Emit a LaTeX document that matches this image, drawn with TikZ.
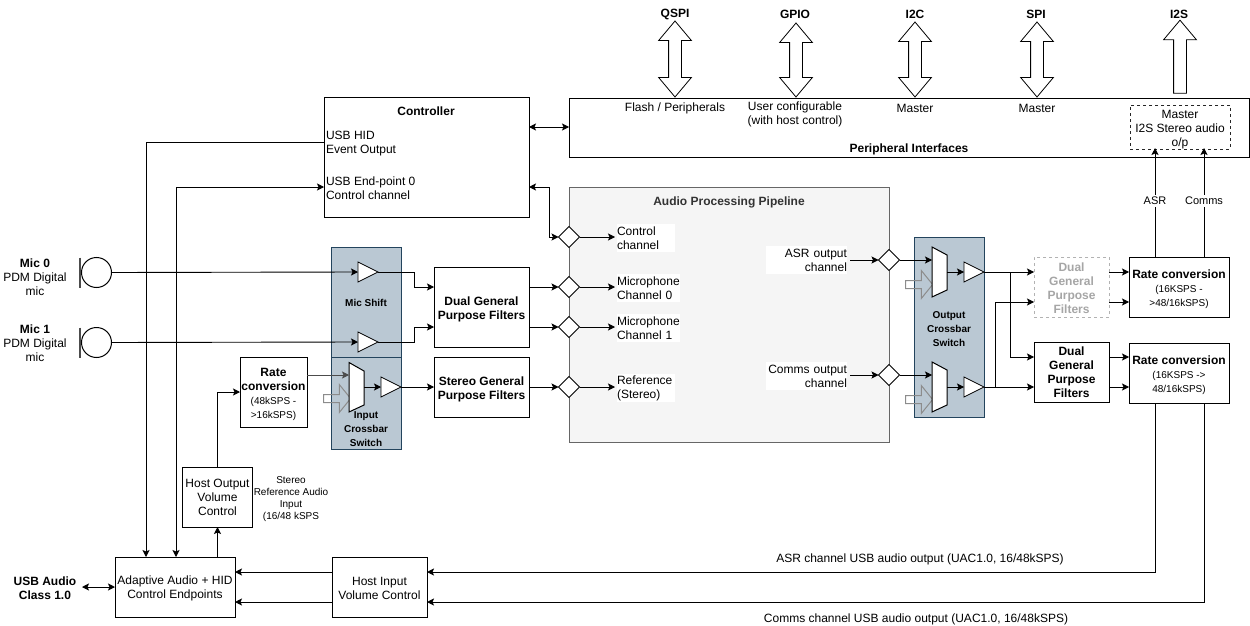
\documentclass[tikz,border=0pt]{standalone}
\usepackage{fontspec}
\setmainfont{Liberation Sans}
\usetikzlibrary{arrows.meta,shapes.geometric,shapes.arrows}

\definecolor{panelfill}{HTML}{BAC8D3}
\definecolor{paneldraw}{HTML}{23445D}
\definecolor{pipefill}{HTML}{F5F5F5}
\definecolor{pipedraw}{HTML}{666666}

\newcommand{\smalltext}{\fontsize{10}{14}\selectfont}
\newcommand{\paneltext}{\fontsize{10}{12}\selectfont\bfseries}
\newcommand{\lowered}[1]{\rule{0pt}{#1}}

\tikzset{
    every node/.style={inner sep=0pt, outer sep=0pt, font=\fontsize{12}{14}\selectfont},
    box/.style={draw, fill=white, line width=1pt, align=center},
    panel/.style={draw=paneldraw, fill=panelfill, line width=1pt},
    buffer/.style={draw, fill=white, line width=0.8pt, isosceles triangle, isosceles triangle apex angle=53,
        isosceles triangle stretches, minimum width=20pt, minimum height=20pt, anchor=apex},
    junction/.style={draw, fill=white, line width=0.8pt, diamond, minimum width=21pt, minimum height=21pt},
    bus/.style={draw, fill=white, line width=0.8pt, rotate=90, inner ysep=6pt, minimum width=32pt,
        double arrow, double arrow head extend=10pt, double arrow tip angle=80, double arrow head indent=0pt},
    busout/.style={draw, fill=white, line width=0.8pt, rotate=90, inner ysep=6pt, minimum width=32pt,
        single arrow, single arrow head extend=10pt, single arrow tip angle=80, single arrow head indent=0pt},
    muxin/.style={draw=black!45, line width=1pt, inner ysep=3.5pt, minimum width=27pt, minimum height=27pt,
        single arrow, single arrow head extend=10pt, single arrow tip angle=102, single arrow head indent=0pt},
    micbar/.style={line width=1.6pt, black!70},
    whitelabel/.style={fill=white, align=left, anchor=west},
    link/.style={line width=0.9pt},
}

\begin{document}
\begin{tikzpicture}[x=1pt, y=-1pt, >={Stealth[length=7pt, width=7pt, inset=1.5pt]}]
    \useasboundingbox (0, 0) rectangle (1250, 626);

    % Backgrounds
    \node at (729, 314.5) (pipeline) [draw=pipedraw, fill=pipefill, line width=1pt, minimum width=320pt, minimum height=255pt] {};
    \node at (729, 202) (pipeline_title) {\color{black!80}\bfseries Audio Processing Pipeline};
    \node at (366, 302) (mic_shift) [panel, minimum width=70pt, minimum height=110pt] {};
    \node at (366, 403) (input_xbar) [panel, minimum width=70pt, minimum height=92pt] {};
    \node at (949, 327) (output_xbar) [panel, minimum width=70pt, minimum height=180pt] {};
    \node at (366, 303) (mic_shift_label) {\paneltext Mic Shift};
    \node at (366, 429) (input_xbar_label) [align=center] {\paneltext Input\\\paneltext Crossbar\\\paneltext Switch};
    \node at (949, 329) (output_xbar_label) [align=center] {\paneltext Output\\\paneltext Crossbar\\\paneltext Switch};

    % Boxes
    \node at (426.5, 157) (controller) [box, minimum width=205pt, minimum height=120pt] {};
    \node at (426, 111) (controller_title) {\bfseries Controller};
    \node at (326, 143.5) (hid_label) [anchor=west, align=left] {USB HID\\Event Output};
    \node at (326, 188) (ep0_label) [anchor=west, align=left] {USB End-point 0\\Control channel};
    \node at (909, 127.5) (peripheral) [box, minimum width=680pt, minimum height=59pt] {};
    \node at (909, 149) (peripheral_title) {\bfseries Peripheral Interfaces};
    \node at (1180, 127) (i2s_master) [draw=black!85, dashed, fill=white, line width=0.7pt, minimum width=100pt, minimum height=41pt, align=center] {\lowered{13.5pt}Master\\I2S Stereo audio\\o/p};
    \node at (481.5, 307) (dual_gpf) [box, minimum width=95pt, minimum height=80pt] {\lowered{13pt}\bfseries Dual General\\\bfseries Purpose Filters};
    \node at (481.5, 387) (stereo_gpf) [box, minimum width=95pt, minimum height=60pt] {\lowered{13pt}\bfseries Stereo General\\\bfseries Purpose Filters};
    \node at (273.5, 392) (rate_in) [box, minimum width=67pt, minimum height=70pt] {\lowered{13pt}\bfseries Rate\\\bfseries conversion\\\smalltext (48kSPS -\\\smalltext >16kSPS)};
    \node at (217.5, 497) (host_out) [box, minimum width=70pt, minimum height=60pt] {Host Output\\Volume\\Control};
    \node at (175, 587) (adaptive) [box, minimum width=120pt, minimum height=60pt] {\lowered{12pt}Adaptive Audio + HID\\Control Endpoints};
    \node at (379.5, 587) (host_in) [box, minimum width=95pt, minimum height=60pt] {\lowered{11pt}Host Input\\Volume Control};
    \node at (1071.5, 287) (dual_gray) [draw=gray!60, dashed, fill=white, line width=0.8pt, minimum width=75pt, minimum height=60pt, align=center, text=gray!70] {\lowered{11pt}\bfseries Dual\\\bfseries General\\\bfseries Purpose\\\bfseries Filters};
    \node at (1071.5, 372) (dual_out) [box, minimum width=75pt, minimum height=60pt] {\lowered{10pt}\bfseries Dual\\\bfseries General\\\bfseries Purpose\\\bfseries Filters};
    \node at (1179, 287) (rate_asr) [box, minimum width=100pt, minimum height=60pt] {\lowered{13pt}\bfseries Rate conversion\\\smalltext (16KSPS -\\\smalltext >48/16kSPS)};
    \node at (1179, 373) (rate_comms) [box, minimum width=100pt, minimum height=60pt] {\lowered{13pt}\bfseries Rate conversion\\\smalltext (16KSPS ->\\\smalltext 48/16kSPS)};

    % Microphones
    \node at (96.5, 272.5) (mic_0) [draw, circle, line width=1pt, minimum size=30pt] {};
    \node at (96.5, 342.5) (mic_1) [draw, circle, line width=1pt, minimum size=30pt] {};
    \draw[micbar] ([xshift=-1.5pt]mic_0.west |- mic_0.north) -- ([xshift=-1.5pt]mic_0.west |- mic_0.south);
    \draw[micbar] ([xshift=-1.5pt]mic_1.west |- mic_1.north) -- ([xshift=-1.5pt]mic_1.west |- mic_1.south);
    \node at (35, 263) (mic_0_name) {\bfseries Mic 0};
    \node at (35, 284) (mic_0_text) [align=center] {PDM Digital\\mic};
    \node at (35, 329) (mic_1_name) {\bfseries Mic 1};
    \node at (35, 350) (mic_1_text) [align=center] {PDM Digital\\mic};

    % Buffers and muxes
    \node at (378, 272) (shift_0) [buffer] {};
    \node at (378, 342) (shift_1) [buffer] {};
    \node at (401, 387) (input_buf) [buffer] {};
    \node at (984, 272) (asr_buf) [buffer] {};
    \node at (984, 387) (comms_buf) [buffer] {};
    \node at (335.5, 398.5) (input_side) [muxin] {};
    \node at (917.5, 284.5) (asr_side) [muxin] {};
    \node at (917.5, 399.5) (comms_side) [muxin] {};
    \draw[fill=white, line width=1pt] (349, 362.5) -- (364, 371) -- (364, 405) -- (349, 412) -- cycle;
    \draw[fill=white, line width=1pt] (932, 247) -- (947, 255) -- (947, 290) -- (932, 297) -- cycle;
    \draw[fill=white, line width=1pt] (932, 362) -- (947, 370) -- (947, 405) -- (932, 412) -- cycle;

    % Junctions
    \node at (569, 237) (j_control) [junction] {};
    \node at (569, 287) (j_mic_0) [junction] {};
    \node at (569, 327) (j_mic_1) [junction] {};
    \node at (569, 387) (j_ref) [junction] {};
    \node at (889, 260) (j_asr) [junction] {};
    \node at (889, 375) (j_comms) [junction] {};

    % Pipeline labels
    \node at (617, 238) (l_control) [whitelabel, minimum width=58pt, minimum height=28pt, text width=58pt] {Control\\channel};
    \node at (617, 288) (l_mic_0) [whitelabel, minimum width=63pt, minimum height=28pt, text width=63pt] {Microphone\\Channel 0};
    \node at (617, 328) (l_mic_1) [whitelabel, minimum width=63pt, minimum height=28pt, text width=63pt] {Microphone\\Channel 1};
    \node at (617, 388) (l_ref) [whitelabel, minimum width=58pt, minimum height=28pt, text width=58pt] {Reference\\(Stereo)};
    \node at (847, 260) (l_asr) [fill=white, anchor=east, align=right, minimum width=81pt, minimum height=28pt, text width=81pt] {ASR output\\channel};
    \node at (847, 376) (l_comms) [fill=white, anchor=east, align=right, minimum width=81pt, minimum height=28pt, text width=81pt] {Comms output\\channel};

    % Top buses
    \node at (675, 59) (qspi) [bus, minimum height=76pt] {};
    \node at (796, 60) (gpio) [bus, minimum height=74pt] {};
    \node at (915, 59.5) (i2c) [bus, minimum height=75pt] {};
    \node at (1037, 59.5) (spi) [bus, minimum height=75pt] {};
    \node at (1180, 60.5) (i2s) [busout, minimum height=73pt] {};
    \node at (675, 14) (qspi_label) {\bfseries QSPI};
    \node at (795, 14) (gpio_label) {\bfseries GPIO};
    \node at (915, 14) (i2c_label) {\bfseries I2C};
    \node at (1036, 14) (spi_label) {\bfseries SPI};
    \node at (1179, 14) (i2s_label) {\bfseries I2S};
    \node at (675, 108) (qspi_text) {Flash / Peripherals};
    \node at (795, 114) (gpio_text) [align=center] {User configurable\\(with host control)};
    \node at (915, 108) (i2c_text) {Master};
    \node at (1037, 108) (spi_text) {Master};

    % Other labels
    \node at (45, 588) (usb_label) [align=center] {\bfseries USB Audio\\\bfseries Class 1.0};
    \node at (291, 499) (ref_label) [align=center, font=\fontsize{10}{12}\selectfont] {Stereo\\Reference Audio\\Input\\(16/48 kSPS};
    \node at (920, 559) (asr_usb_label) {ASR channel USB audio output (UAC1.0, 16/48kSPS)};
    \node at (916, 619.5) (comms_usb_label) {Comms channel USB audio output (UAC1.0, 16/48kSPS)};

    % Free ends
    \coordinate (hid_port) at (324, 142);
    \coordinate (ep0_port) at (324, 187);
    \coordinate (ctrl_pipe) at (529, 187);
    \coordinate (ctrl_bend) at (549, 187);
    \coordinate (ctrl_peri) at (529, 127);
    \coordinate (peri_ctrl) at (569, 127);
    \coordinate (adaptive_hid) at (146, 557);
    \coordinate (adaptive_ep0) at (176, 557);
    \coordinate (usb_end) at (82, 587);
    \coordinate (shift_bend_0) at (414, 272);
    \coordinate (shift_bend_1) at (414, 342);
    \coordinate (dual_in_0) at (434, 287);
    \coordinate (dual_in_1) at (434, 327);
    \coordinate (dual_out_0) at (529, 287);
    \coordinate (dual_out_1) at (529, 327);
    \coordinate (rate_in_in) at (240, 392);
    \coordinate (rate_in_out) at (307, 375);
    \coordinate (input_mux_in) at (349, 375);
    \coordinate (input_mux_out) at (364, 387);
    \coordinate (asr_mux_in) at (932, 260);
    \coordinate (asr_mux_out) at (947, 272);
    \coordinate (comms_mux_in) at (932, 375);
    \coordinate (comms_mux_out) at (947, 387);
    \coordinate (asr_branch) at (1010, 272);
    \coordinate (comms_branch) at (995, 387);
    \coordinate (gray_in_0) at (1034, 272);
    \coordinate (gray_in_1) at (1034, 302);
    \coordinate (gray_out_0) at (1109, 272);
    \coordinate (gray_out_1) at (1109, 302);
    \coordinate (dual_in_2) at (1034, 357);
    \coordinate (dual_in_3) at (1034, 387);
    \coordinate (dual_out_2) at (1109, 357);
    \coordinate (dual_out_3) at (1109, 387);
    \coordinate (rate_asr_0) at (1129, 272);
    \coordinate (rate_asr_1) at (1129, 302);
    \coordinate (rate_comms_0) at (1129, 357);
    \coordinate (rate_comms_1) at (1129, 387);
    \coordinate (asr_up) at (1155, 257);
    \coordinate (comms_up) at (1204, 257);
    \coordinate (asr_tip) at (1155, 148);
    \coordinate (comms_tip) at (1204, 148);
    \coordinate (asr_down) at (1155, 403);
    \coordinate (comms_down) at (1204, 403);
    \coordinate (host_asr) at (427, 572);
    \coordinate (host_comms) at (427, 602);
    \coordinate (host_left_0) at (332, 572);
    \coordinate (host_left_1) at (332, 602);
    \coordinate (adaptive_0) at (235, 572);
    \coordinate (adaptive_1) at (235, 602);
    \coordinate (asr_in) at (850, 260);
    \coordinate (comms_in) at (850, 375);
    \coordinate (ctrl_out) at (615, 237);
    \coordinate (mic_0_out) at (615, 287);
    \coordinate (mic_1_out) at (615, 327);
    \coordinate (ref_out) at (615, 387);

    % Arrows
    \draw[link, ->] (hid_port) -| (adaptive_hid);
    \draw[link, <->] (adaptive_ep0) |- (ep0_port);
    \draw[link, <->] (ctrl_peri) -- (peri_ctrl);
    \draw[link, <->] (ctrl_pipe) -- (ctrl_bend) |- (j_control.west);
    \draw[link, ->] (mic_0.east) -- (shift_0.west);
    \draw[link, ->] (mic_1.east) -- (shift_1.west);
    \draw[link, ->] (shift_0.apex) -- (shift_bend_0) |- (dual_in_0);
    \draw[link, ->] (shift_1.apex) -- (shift_bend_1) |- (dual_in_1);
    \draw[link, ->] (dual_out_0) -- (j_mic_0.west);
    \draw[link, ->] (dual_out_1) -- (j_mic_1.west);
    \draw[link, ->] (stereo_gpf.east) -- (j_ref.west);
    \draw[link, ->] (input_buf.apex) -- (stereo_gpf.west);
    \draw[link, ->] (input_mux_out) -- (input_buf.west);
    \draw[link, ->, draw=black!70] (rate_in_out) -- (input_mux_in);
    \draw[link, ->] (host_out.north) |- (rate_in_in);
    \draw[link, ->] (adaptive.north -| host_out) -- (host_out.south);
    \draw[link, ->] (j_control.east) -- (ctrl_out);
    \draw[link, ->] (j_mic_0.east) -- (mic_0_out);
    \draw[link, ->] (j_mic_1.east) -- (mic_1_out);
    \draw[link, ->] (j_ref.east) -- (ref_out);
    \draw[link, ->] (asr_in) -- (j_asr.west);
    \draw[link, ->] (comms_in) -- (j_comms.west);
    \draw[link, ->] (j_asr.east) -- (asr_mux_in);
    \draw[link, ->] (j_comms.east) -- (comms_mux_in);
    \draw[link, ->] (asr_mux_out) -- (asr_buf.west);
    \draw[link, ->] (comms_mux_out) -- (comms_buf.west);
    \draw[link, ->] (asr_buf.apex) -- (gray_in_0);
    \draw[link, ->] (comms_buf.apex) -- (dual_in_3);
    \draw[link, ->] (asr_branch) |- (dual_in_2);
    \draw[link, ->] (comms_branch) |- (gray_in_1);
    \draw[link, ->] (gray_out_0) -- (rate_asr_0);
    \draw[link, ->] (gray_out_1) -- (rate_asr_1);
    \draw[link, ->] (dual_out_2) -- (rate_comms_0);
    \draw[link, ->] (dual_out_3) -- (rate_comms_1);
    \draw[link, ->] (asr_up) -- (asr_tip);
    \draw[link, ->] (comms_up) -- (comms_tip);
    \draw[link, ->] (asr_down) |- (host_asr);
    \draw[link, ->] (comms_down) |- (host_comms);
    \draw[link, ->] (host_left_0) -- (adaptive_0);
    \draw[link, ->] (host_left_1) -- (adaptive_1);
    \draw[link, <->] (usb_end) -- (adaptive.west);

    % Labels on arrows
    \node at (1155, 201) (asr_tag) [fill=white, inner sep=2pt, font=\fontsize{11}{12}\selectfont] {ASR};
    \node at (1204, 201) (comms_tag) [fill=white, inner sep=2pt, font=\fontsize{11}{12}\selectfont] {Comms};
\end{tikzpicture}
\end{document}
